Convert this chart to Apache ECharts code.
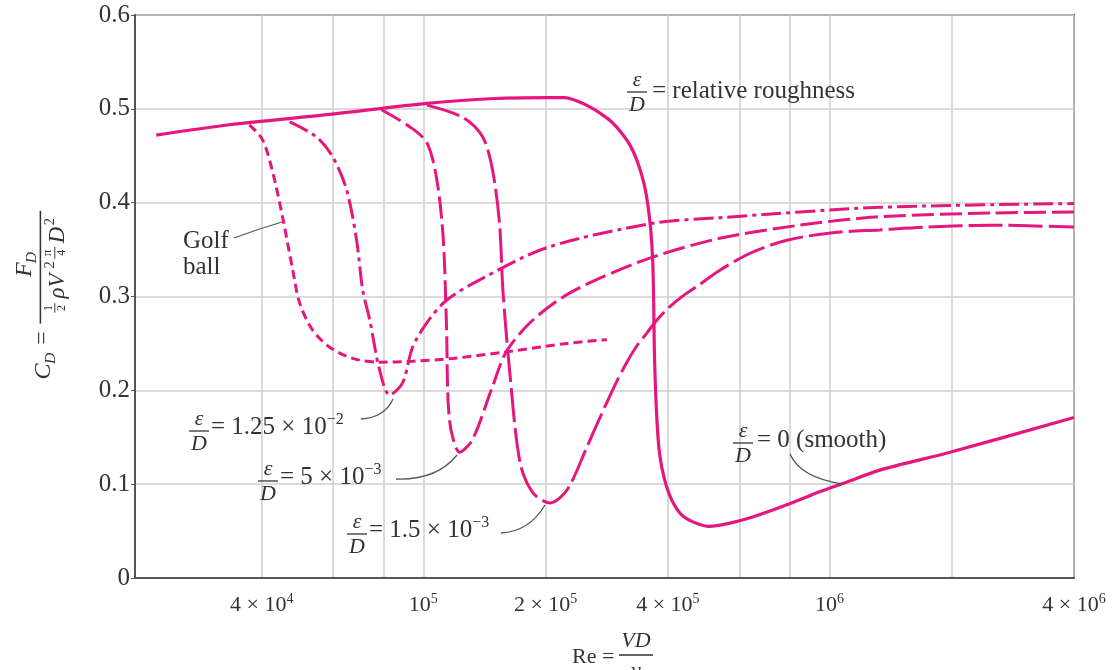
<!DOCTYPE html>
<html>
<head>
<meta charset="utf-8">
<title>Drag coefficient of spheres vs Reynolds number</title>
<script src="https://cdn.jsdelivr.net/npm/echarts@6.0.0/dist/echarts.min.js"></script>
<style>
  html, body { margin: 0; padding: 0; background: #fff; }
  #chart { width: 1116px; height: 670px; }
</style>
</head>
<body>
<div id="chart"></div>
<script>
// valores (Re, C_D)
const reSmooth = [2.2e4, 3.33e4, 5.88e4, 9.8e4, 1.5e5, 2.02e5, 2.23e5, 2.4e5, 2.57e5, 2.73e5, 2.91e5, 3.08e5, 3.24e5, 3.37e5, 3.49e5, 3.57e5, 3.63e5, 3.67e5, 3.69e5, 3.71e5, 3.76e5, 3.82e5, 3.93e5, 4.09e5, 4.33e5, 4.66e5, 5.07e5, 5.62e5, 6.47e5, 7.85e5, 9.46e5, 1.1e6, 1.33e6, 1.98e6, 4e6];
const cdSmooth = [0.472, 0.483, 0.494, 0.505, 0.511, 0.512, 0.512, 0.508, 0.502, 0.495, 0.486, 0.474, 0.46, 0.443, 0.421, 0.398, 0.371, 0.339, 0.296, 0.232, 0.168, 0.131, 0.104, 0.083, 0.067, 0.059, 0.055, 0.058, 0.065, 0.078, 0.092, 0.102, 0.115, 0.134, 0.171];

const re15e3 = [1.02e5, 1.25e5, 1.4e5, 1.48e5, 1.54e5, 1.57e5, 1.63e5, 1.73e5, 1.86e5, 2.05e5, 2.26e5, 2.53e5, 2.67e5, 2.83e5, 2.99e5, 3.17e5, 3.35e5, 3.55e5, 3.76e5, 4.04e5, 4.4e5, 4.8e5, 5.37e5, 6.37e5, 7.85e5, 1.02e6, 1.33e6, 1.74e6, 2.52e6, 4e6];
const cd15e3 = [0.504, 0.491, 0.47, 0.435, 0.378, 0.307, 0.222, 0.123, 0.091, 0.08, 0.094, 0.14, 0.163, 0.187, 0.209, 0.23, 0.247, 0.261, 0.275, 0.289, 0.302, 0.313, 0.328, 0.346, 0.36, 0.368, 0.371, 0.374, 0.376, 0.374];

const re5e3 = [7.89e4, 9.25e4, 1.02e5, 1.08e5, 1.12e5, 1.14e5, 1.16e5, 1.23e5, 1.32e5, 1.48e5, 1.6e5, 1.83e5, 2.2e5, 2.67e5, 3.67e5, 5.37e5, 8.45e5, 1.33e6, 2.52e6, 4e6];
const cd5e3 = [0.499, 0.481, 0.464, 0.424, 0.36, 0.27, 0.168, 0.134, 0.147, 0.204, 0.241, 0.272, 0.299, 0.318, 0.342, 0.362, 0.376, 0.385, 0.389, 0.39];

const re125e2 = [4.69e4, 5.46e4, 5.98e4, 6.47e4, 6.85e4, 7.09e4, 7.38e4, 7.8e4, 8.26e4, 8.89e4, 9.41e4, 1.02e5, 1.14e5, 1.38e5, 2.01e5, 3.67e5, 5.37e5, 1.33e6, 4e6];
const cd125e2 = [0.486, 0.47, 0.449, 0.414, 0.36, 0.307, 0.275, 0.222, 0.195, 0.208, 0.246, 0.272, 0.296, 0.318, 0.352, 0.378, 0.384, 0.395, 0.399];

const reGolf = [3.73e4, 4.02e4, 4.26e4, 4.5e4, 4.77e4, 4.96e4, 5.34e4, 5.88e4, 6.7e4, 7.8e4, 9.41e4, 1.18e5, 1.6e5, 2.26e5, 2.83e5];
const cdGolf = [0.483, 0.467, 0.432, 0.385, 0.328, 0.293, 0.264, 0.246, 0.234, 0.23, 0.231, 0.234, 0.241, 0.25, 0.254];

// marcas del eje x
const gridRe = [4e4, 6e4, 8e4, 1e5, 2e5, 4e5, 6e5, 8e5, 1e6, 2e6, 4e6];
const labelRe = [4e4, 1e5, 2e5, 4e5, 1e6, 4e6];
const labelMant = ['4 × 10', '10', '2 × 10', '4 × 10', '10', '4 × 10'];
const labelExp = ['4', '5', '5', '5', '6', '6'];

const RE_MIN = 1.95e4;
const RE_MAX = 4e6;

const PINK = '#E5177E';
const INK = '#333';
const SERIF = '"Liberation Serif", "DejaVu Serif", serif';

const chart = echarts.init(document.getElementById('chart'));

function curva(name, re, cd, dash, width) {
  return {
    name,
    type: 'line',
    xAxisIndex: 0,
    yAxisIndex: 0,
    data: re.map((r, i) => [r, cd[i]]),
    symbol: 'none',
    smooth: 0.3,
    silent: true,
    lineStyle: { color: PINK, width, type: dash, cap: 'butt' },
    z: 3
  };
}

// textos auxiliares
function txt(text, x, y, size, opts = {}) {
  return {
    type: 'text', x, y, z: 10, silent: true,
    style: {
      text,
      font: `${opts.italic ? 'italic ' : ''}${size}px ${SERIF}`,
      fill: INK,
      align: opts.align || 'left',
      verticalAlign: 'middle',
      rich: opts.rich
    }
  };
}
function barra(x1, x2, y, w = 1.3) {
  return { type: 'line', z: 10, silent: true, shape: { x1, y1: y, x2, y2: y }, style: { stroke: INK, lineWidth: w } };
}
function epsD(cx, cy) {
  return [
    txt('ε', cx, cy - 12, 22, { italic: true, align: 'center' }),
    barra(cx - 10, cx + 10, cy),
    txt('D', cx, cy + 13, 22, { italic: true, align: 'center' })
  ];
}
function guia(x1, y1, cpx1, cpy1, cpx2, cpy2, x2, y2) {
  return {
    type: 'bezierCurve', z: 10, silent: true,
    shape: { x1, y1, cpx1, cpy1, cpx2, cpy2, x2, y2 },
    style: { stroke: '#555', lineWidth: 1.3, fill: null }
  };
}
const labRich = {
  n: { fontSize: 25, fontFamily: SERIF, color: INK, lineHeight: 30 },
  s: { fontSize: 16, fontFamily: SERIF, color: INK, verticalAlign: 'top', lineHeight: 17 }
};
const tickRich = {
  n: { fontSize: 22, fontFamily: SERIF, color: INK, lineHeight: 27 },
  s: { fontSize: 14, fontFamily: SERIF, color: INK, verticalAlign: 'top', lineHeight: 15 }
};

const graphics = [
  // ε/D = relative roughness
  ...epsD(637, 92),
  txt('= relative roughness', 652, 91, 25),
  // golf ball
  txt('Golf', 183, 241, 25),
  txt('ball', 183, 267, 25),
  guia(234, 238, 250, 232, 265, 227, 282, 222),
  // 1.25e-2
  ...epsD(199, 431),
  txt('{n|= 1.25 × 10}{s|−2}', 211, 427, 25, { rich: labRich }),
  guia(361, 419, 378, 418, 388, 410, 393, 399),
  // 5e-3
  ...epsD(268, 481),
  txt('{n|= 5 × 10}{s|−3}', 280, 477, 25, { rich: labRich }),
  guia(396, 479, 425, 480, 445, 470, 457, 455),
  // 1.5e-3
  ...epsD(357, 534),
  txt('{n|= 1.5 × 10}{s|−3}', 369, 530, 25, { rich: labRich }),
  guia(501, 533, 520, 532, 535, 522, 545, 505),
  // smooth
  ...epsD(743, 443),
  txt('= 0 (smooth)', 757, 440, 25),
  guia(790, 454, 797, 470, 815, 480, 843, 484),
  // título eje x
  txt('Re =', 572, 657, 22),
  txt('VD', 636, 641, 22, { italic: true, align: 'center' }),
  barra(619, 653, 655),
  txt('ν', 636, 671, 22, { italic: true, align: 'center' }),
  // título eje y (girado)
  {
    type: 'group', x: 44, y: 290, rotation: Math.PI / 2, scaleX: 1.2, scaleY: 1.2,
    children: [
      txt('C', -68, 0, 20, { italic: true, align: 'center' }),
      txt('D', -57, 6, 13, { italic: true, align: 'center' }),
      txt('=', -40, -1, 20, { align: 'center' }),
      txt('F', 17, -16, 20, { italic: true, align: 'center' }),
      txt('D', 27, -10, 13, { italic: true, align: 'center' }),
      barra(-28, 66, -3),
      txt('1', -15, 4, 10, { align: 'center' }),
      barra(-19, -11, 9, 0.8),
      txt('2', -15, 15, 10, { align: 'center' }),
      txt('ρV', -7, 12, 19, { italic: true }),
      txt('2', 18, 5, 12),
      txt('π', 31, 3, 11, { align: 'center' }),
      barra(26, 36, 9, 0.8),
      txt('4', 31, 15, 10, { align: 'center' }),
      txt('D', 39, 12, 19, { italic: true }),
      txt('2', 54, 5, 12)
    ]
  }
];

const option = {
  animation: false,
  backgroundColor: '#fff',
  grid: {
    left: 135, right: 42, top: 15, bottom: 92,
    show: true, borderColor: '#666', borderWidth: 2,
    containLabel: false, outerBoundsMode: 'none'
  },
  xAxis: [
    { type: 'log', logBase: 10, min: RE_MIN, max: RE_MAX, show: false },
    {
      type: 'value',
      min: Math.log10(RE_MIN),
      max: Math.log10(RE_MAX),
      position: 'bottom',
      axisLine: { show: true, lineStyle: { color: '#555', width: 2 } },
      axisTick: { show: false, customValues: gridRe.map(Math.log10) },
      splitLine: { show: true, lineStyle: { color: '#cfcfcf', width: 1.5 } },
      axisLabel: {
        customValues: labelRe.map(Math.log10),
        margin: 14,
        rich: tickRich,
        formatter: (v) => {
          const i = labelRe.findIndex(r => Math.abs(Math.log10(r) - v) < 1e-6);
          return i < 0 ? '' : `{n|${labelMant[i]}}{s|${labelExp[i]}}`;
        }
      }
    }
  ],
  yAxis: {
    type: 'value', min: 0, max: 0.6, interval: 0.1,
    axisLine: { show: true, lineStyle: { color: '#555', width: 2 } },
    axisTick: { show: true, length: 4, lineStyle: { color: '#555' } },
    splitLine: { show: true, lineStyle: { color: '#cfcfcf', width: 1.5 } },
    axisLabel: {
      fontFamily: SERIF, fontSize: 25, color: INK, margin: 5,
      formatter: (v) => (v === 0 ? '0' : v.toFixed(1))
    }
  },
  series: [
    curva('ε/D = 0', reSmooth, cdSmooth, 'solid', 3.2),
    curva('ε/D = 1.5e-3', re15e3, cd15e3, [34, 6], 3),
    curva('ε/D = 5e-3', re5e3, cd5e3, [22, 6], 3),
    curva('ε/D = 1.25e-2', re125e2, cd125e2, [20, 5, 4, 5], 3),
    curva('Golf ball', reGolf, cdGolf, [9, 5], 3)
  ],
  graphic: graphics
};

chart.setOption(option);
window.addEventListener('resize', () => chart.resize());
</script>
</body>
</html>
